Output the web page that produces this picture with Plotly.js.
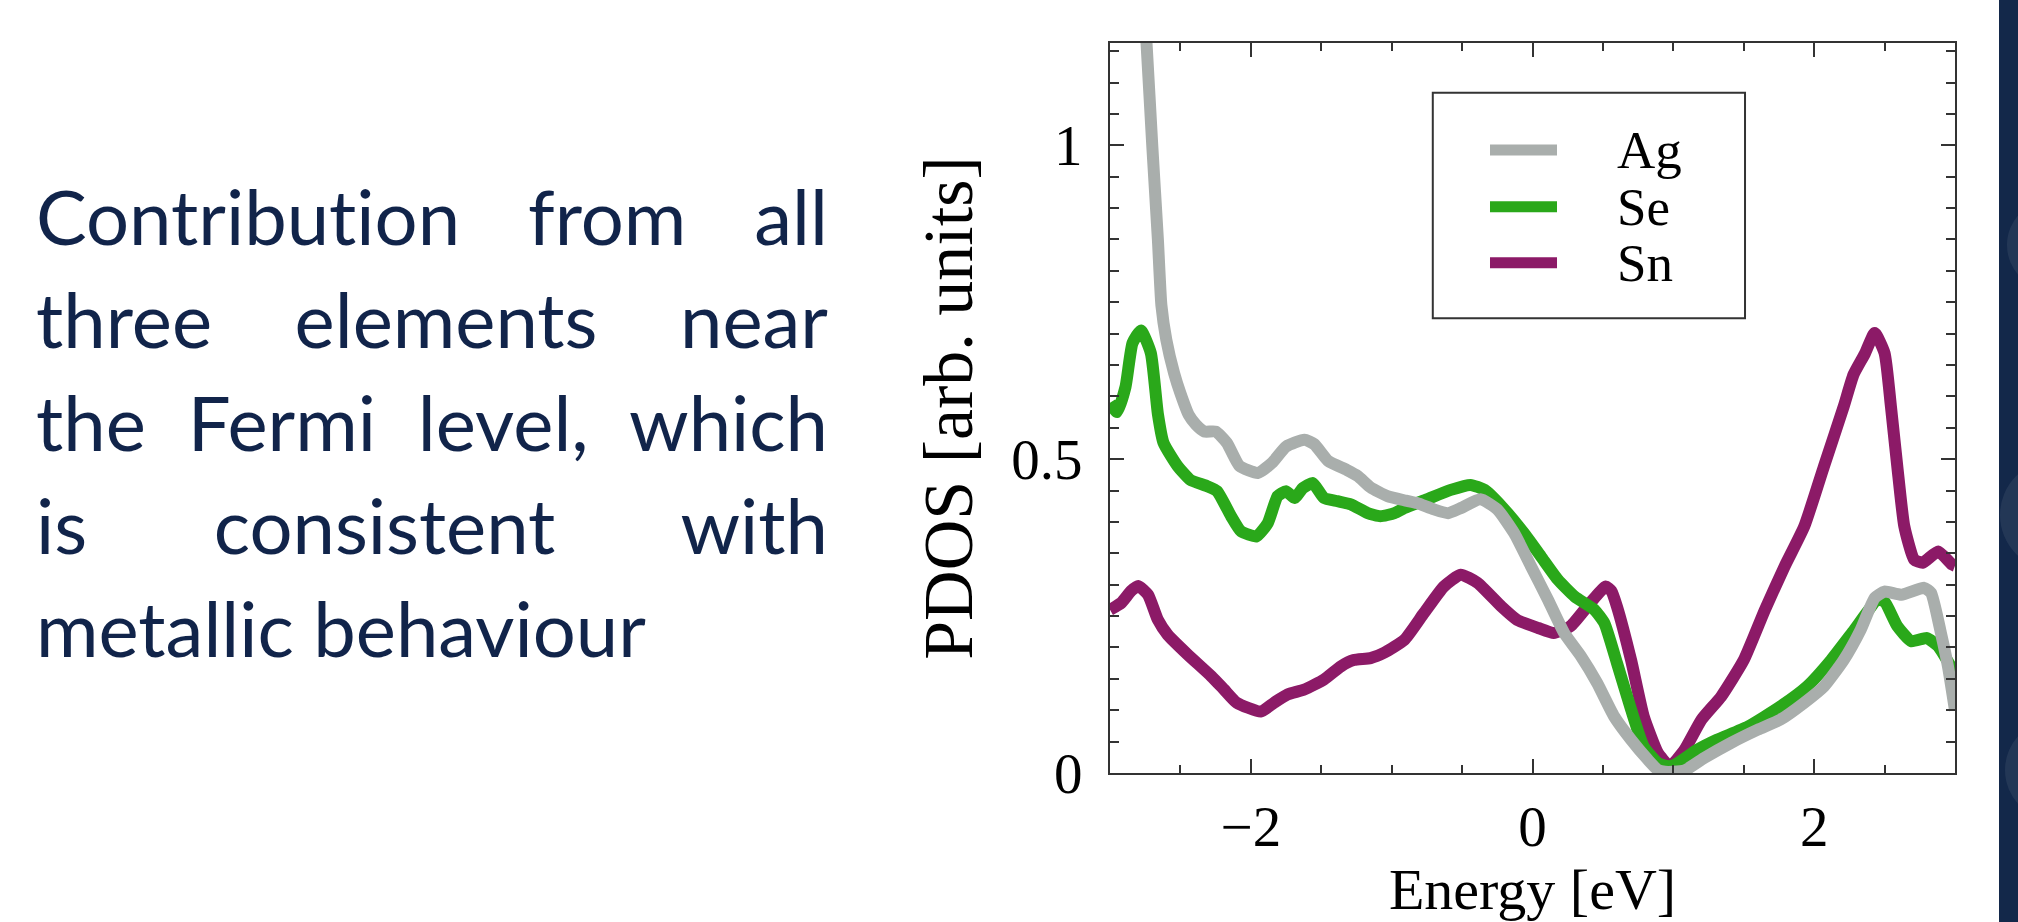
<!DOCTYPE html>
<html>
<head>
<meta charset="utf-8">
<script src="https://cdn.plot.ly/plotly-3.0.1.min.js"></script>
<style>
  html, body { margin: 0; padding: 0; background: #ffffff; width: 2018px; height: 922px; overflow: hidden; }
  #chart { position: absolute; left: 0; top: 0; width: 2018px; height: 922px; }
  #note { position: absolute; left: 36px; top: 164px; width: 792px; font-family: Lato, "Open Sans", sans-serif; font-size: 76px; line-height: 103px; color: #11244a; pointer-events: none; font-variant-ligatures: none; font-feature-settings: "liga" 0, "clig" 0; }
  #note .ln { text-align: justify; text-align-last: justify; }
  #note .ln.last { text-align: left; text-align-last: left; }
  #panel { position: absolute; left: 1999px; top: 0; width: 19px; height: 922px; background: #13284a; overflow: hidden; }
  #panel .c { position: absolute; border-radius: 50%; background: rgba(255,255,255,0.07); }
</style>
</head>
<body>
<div id="chart"></div>
<div id="note">
  <div class="ln">Contribution from all</div>
  <div class="ln">three elements near</div>
  <div class="ln">the Fermi level, which</div>
  <div class="ln">is consistent with</div>
  <div class="ln last">metallic behaviour</div>
</div>
<div id="panel">
  <div class="c" style="left:8px; top:200px; width:90px; height:90px;"></div>
  <div class="c" style="left:1px; top:460px; width:110px; height:110px;"></div>
  <div class="c" style="left:6px; top:720px; width:100px; height:100px;"></div>
</div>
<script>
// ---- Data ----
const seriesNames = ["Ag", "Se", "Sn"];
const seriesColors = ["#a9aeac", "#2aa81a", "#8c1a67"];

const agEnergy = [-2.78, -2.74, -2.70, -2.66, -2.635, -2.60, -2.545, -2.50, -2.44, -2.39, -2.33, -2.25, -2.17, -2.08, -1.95, -1.85, -1.75, -1.62, -1.55, -1.45, -1.32, -1.24, -1.15, -1.03, -0.90, -0.82, -0.70, -0.60, -0.51, -0.37, -0.25, -0.13, -0.01, 0.11, 0.225, 0.344, 0.46, 0.58, 0.70, 0.82, 0.89, 0.94, 1.00, 1.08, 1.22, 1.41, 1.60, 1.76, 1.93, 2.07, 2.21, 2.33, 2.43, 2.50, 2.62, 2.78, 2.83, 2.90, 2.95, 3.00];
const agPdos   = [1.30, 1.16, 1.00, 0.85, 0.745, 0.69, 0.637, 0.605, 0.570, 0.555, 0.544, 0.544, 0.526, 0.489, 0.478, 0.494, 0.520, 0.531, 0.524, 0.497, 0.483, 0.473, 0.455, 0.441, 0.434, 0.430, 0.420, 0.414, 0.422, 0.436, 0.420, 0.382, 0.329, 0.276, 0.223, 0.186, 0.143, 0.090, 0.053, 0.021, 0.005, 0.002, 0.002, 0.004, 0.024, 0.048, 0.069, 0.085, 0.112, 0.138, 0.180, 0.228, 0.279, 0.289, 0.284, 0.295, 0.287, 0.223, 0.170, 0.100];

const seEnergy = [-3.00, -2.95, -2.89, -2.84, -2.78, -2.71, -2.66, -2.62, -2.52, -2.43, -2.31, -2.24, -2.14, -2.07, -1.96, -1.88, -1.81, -1.75, -1.69, -1.63, -1.56, -1.48, -1.385, -1.29, -1.17, -1.08, -0.98, -0.91, -0.75, -0.58, -0.44, -0.34, -0.22, -0.06, 0.06, 0.18, 0.30, 0.44, 0.51, 0.60, 0.70, 0.79, 0.89, 0.96, 1.01, 1.17, 1.31, 1.53, 1.76, 1.95, 2.12, 2.285, 2.45, 2.50, 2.59, 2.69, 2.80, 2.88, 2.97, 3.00];
const sePdos   = [0.590, 0.575, 0.615, 0.685, 0.705, 0.669, 0.572, 0.526, 0.489, 0.467, 0.457, 0.449, 0.409, 0.385, 0.377, 0.398, 0.441, 0.449, 0.438, 0.454, 0.462, 0.438, 0.433, 0.428, 0.414, 0.409, 0.414, 0.422, 0.436, 0.451, 0.459, 0.451, 0.425, 0.382, 0.345, 0.308, 0.281, 0.260, 0.239, 0.175, 0.101, 0.042, 0.016, 0.011, 0.013, 0.037, 0.053, 0.074, 0.106, 0.138, 0.180, 0.228, 0.276, 0.273, 0.234, 0.210, 0.215, 0.202, 0.170, 0.160];

const snEnergy = [-3.00, -2.92, -2.85, -2.80, -2.73, -2.66, -2.59, -2.45, -2.28, -2.19, -2.10, -1.93, -1.835, -1.74, -1.62, -1.48, -1.36, -1.27, -1.15, -1.05, -0.91, -0.77, -0.63, -0.51, -0.39, -0.22, -0.11, 0.04, 0.15, 0.27, 0.41, 0.52, 0.56, 0.60, 0.70, 0.79, 0.89, 0.96, 0.98, 1.08, 1.20, 1.34, 1.50, 1.65, 1.79, 1.93, 2.07, 2.21, 2.28, 2.36, 2.43, 2.50, 2.545, 2.59, 2.64, 2.71, 2.77, 2.88, 2.98, 3.00];
const snPdos   = [0.260, 0.271, 0.290, 0.298, 0.284, 0.244, 0.220, 0.189, 0.154, 0.133, 0.112, 0.098, 0.112, 0.125, 0.133, 0.149, 0.170, 0.180, 0.183, 0.192, 0.212, 0.255, 0.297, 0.316, 0.303, 0.265, 0.244, 0.231, 0.223, 0.234, 0.271, 0.297, 0.290, 0.265, 0.180, 0.090, 0.032, 0.013, 0.011, 0.037, 0.085, 0.122, 0.180, 0.260, 0.329, 0.393, 0.489, 0.584, 0.635, 0.668, 0.701, 0.669, 0.584, 0.489, 0.393, 0.340, 0.335, 0.353, 0.332, 0.330];

const xTitle = "Energy [eV]";
const yTitle = "PDOS [arb. units]";

// ---- Traces ----
const energies = [agEnergy, seEnergy, snEnergy];
const values = [agPdos, sePdos, snPdos];
const drawOrder = [2, 1, 0];
const traces = drawOrder.map(i => ({
  type: "scatter",
  mode: "lines",
  name: seriesNames[i],
  x: energies[i],
  y: values[i],
  line: { color: seriesColors[i], width: 12, shape: "spline", smoothing: 0.5 },
  hoverinfo: "skip"
}));

// ---- Custom legend (framed box) ----
const axisColor = "#333333";
const legendBox = { x0: 0.382, x1: 0.7515, y0: 0.623, y1: 0.932 };
const legendRows = [0.8534, 0.7758, 0.699];
const shapes = [{
  type: "rect", xref: "paper", yref: "paper",
  x0: legendBox.x0, x1: legendBox.x1, y0: legendBox.y0, y1: legendBox.y1,
  line: { color: axisColor, width: 2 }, fillcolor: "rgba(0,0,0,0)", layer: "above"
}];
const annotations = [];
seriesNames.forEach((nm, i) => {
  shapes.push({
    type: "line", xref: "paper", yref: "paper",
    x0: 0.4497, x1: 0.529, y0: legendRows[i], y1: legendRows[i],
    line: { color: seriesColors[i], width: 11 }, layer: "above"
  });
  annotations.push({
    xref: "paper", yref: "paper", x: 0.5976, y: legendRows[i],
    xanchor: "left", yanchor: "middle", showarrow: false,
    text: nm, font: { size: 53, color: "#000" }
  });
});

const serif = '"Liberation Serif", "Times New Roman", Times, serif';

const layout = {
  width: 2018, height: 922,
  margin: { l: 1110, r: 63, t: 43, b: 149, pad: 0 },
  paper_bgcolor: "#ffffff", plot_bgcolor: "#ffffff",
  showlegend: false,
  font: { family: serif, color: "#000000", size: 56 },
  xaxis: {
    range: [-3, 3], tickmode: "linear", tick0: 0, dtick: 2,
    ticks: "inside", ticklen: 14, tickwidth: 2, tickcolor: axisColor,
    showline: true, linecolor: axisColor, linewidth: 2, mirror: "allticks",
    showgrid: false, zeroline: false,
    tickfont: { size: 57, family: serif, color: "#000" },
    ticklabelstandoff: 3,
    minor: { tickmode: "linear", tick0: 0, dtick: 0.5, ticks: "inside", ticklen: 8, tickwidth: 2, tickcolor: axisColor, showgrid: false },
    title: { text: xTitle, font: { size: 58, family: serif, color: "#000" }, standoff: 42 },
    fixedrange: true
  },
  yaxis: {
    range: [0, 1.163], tickmode: "linear", tick0: 0, dtick: 0.5,
    ticks: "inside", ticklen: 14, tickwidth: 2, tickcolor: axisColor,
    showline: true, linecolor: axisColor, linewidth: 2, mirror: "allticks",
    showgrid: false, zeroline: false,
    tickfont: { size: 57, family: serif, color: "#000" },
    ticklabelstandoff: 14,
    minor: { tickmode: "linear", tick0: 0, dtick: 0.05, ticks: "inside", ticklen: 9, tickwidth: 2, tickcolor: axisColor, showgrid: false },
    title: { text: yTitle, font: { size: 70, family: serif, color: "#000" }, standoff: 16 },
    fixedrange: true
  },
  shapes: shapes,
  annotations: annotations
};

Plotly.newPlot("chart", traces, layout, { staticPlot: true, displayModeBar: false });
</script>
</body>
</html>
